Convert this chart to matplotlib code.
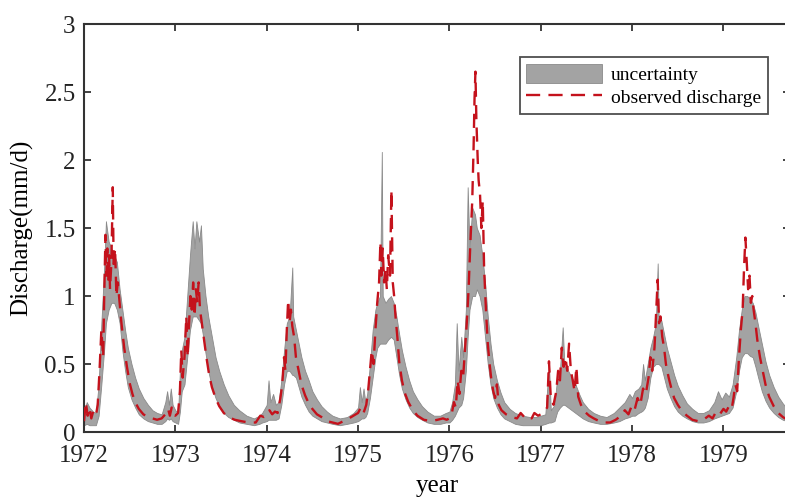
import matplotlib
matplotlib.use("Agg")
import matplotlib.pyplot as plt

# ---------------- data (decimal years, mm/d) ----------------
t_obs = [1972.00, 1972.02, 1972.04, 1972.06, 1972.08, 1972.10, 1972.13, 1972.15, 1972.17, 1972.19,
         1972.21, 1972.22, 1972.235, 1972.245, 1972.255, 1972.265, 1972.275, 1972.285, 1972.30, 1972.315,
         1972.325, 1972.34, 1972.355, 1972.37, 1972.39, 1972.41, 1972.44, 1972.47, 1972.50, 1972.53,
         1972.56, 1972.60, 1972.65, 1972.70, 1972.75, 1972.80, 1972.85, 1972.89, 1972.92, 1972.94,
         1972.96, 1972.98,
         1973.00, 1973.03, 1973.05, 1973.065, 1973.08, 1973.10, 1973.12, 1973.135, 1973.15, 1973.165,
         1973.18, 1973.195, 1973.21, 1973.225, 1973.24, 1973.255, 1973.27, 1973.29, 1973.31, 1973.34,
         1973.37, 1973.40, 1973.44, 1973.48, 1973.53, 1973.58, 1973.65, 1973.72, 1973.80, 1973.88,
         1973.93, 1973.97,
         1974.00, 1974.03, 1974.06, 1974.09, 1974.12, 1974.15, 1974.17, 1974.19, 1974.205, 1974.22,
         1974.235, 1974.25, 1974.265, 1974.28, 1974.30, 1974.32, 1974.35, 1974.38, 1974.42, 1974.46,
         1974.50, 1974.55, 1974.60, 1974.66, 1974.72, 1974.78, 1974.84, 1974.90, 1974.95,
         1975.00, 1975.03, 1975.06, 1975.09, 1975.11, 1975.13, 1975.15, 1975.17, 1975.19, 1975.21,
         1975.23, 1975.245, 1975.255, 1975.27, 1975.285, 1975.30, 1975.315, 1975.33, 1975.35, 1975.365,
         1975.38, 1975.395, 1975.41, 1975.43, 1975.45, 1975.48, 1975.51, 1975.55, 1975.60, 1975.65,
         1975.72, 1975.80, 1975.87, 1975.93, 1975.97,
         1976.00, 1976.03, 1976.05, 1976.07, 1976.09, 1976.11, 1976.13, 1976.15, 1976.17, 1976.19,
         1976.21, 1976.23, 1976.25, 1976.265, 1976.275, 1976.285, 1976.295, 1976.31, 1976.32, 1976.335,
         1976.35, 1976.365, 1976.38, 1976.40, 1976.42, 1976.44, 1976.46, 1976.48, 1976.50, 1976.52,
         1976.54, 1976.57, 1976.62, 1976.68, 1976.74, 1976.78, 1976.82, 1976.86, 1976.90, 1976.93,
         1976.97,
         1977.00, 1977.04, 1977.07, 1977.09, 1977.11, 1977.14, 1977.17, 1977.19, 1977.21, 1977.23,
         1977.25, 1977.27, 1977.29, 1977.31, 1977.33, 1977.35, 1977.37, 1977.39, 1977.41, 1977.44,
         1977.48, 1977.53, 1977.58, 1977.64, 1977.70, 1977.76, 1977.82, 1977.88, 1977.92, 1977.96,
         1978.00, 1978.03, 1978.06, 1978.09, 1978.12, 1978.15, 1978.18, 1978.20, 1978.22, 1978.245,
         1978.265, 1978.28, 1978.295, 1978.31, 1978.33, 1978.35, 1978.37, 1978.40, 1978.43, 1978.46,
         1978.50, 1978.55, 1978.60, 1978.66, 1978.72, 1978.78, 1978.84, 1978.88, 1978.92, 1978.96,
         1979.00, 1979.03, 1979.06, 1979.09, 1979.11, 1979.13, 1979.15, 1979.17, 1979.19, 1979.21,
         1979.225, 1979.24, 1979.255, 1979.27, 1979.285, 1979.30, 1979.315, 1979.33, 1979.35, 1979.37,
         1979.40, 1979.43, 1979.46, 1979.50, 1979.55, 1979.60, 1979.65, 1979.70, 1979.75]

q_obs = [0.08, 0.22, 0.12, 0.18, 0.10, 0.15, 0.12, 0.20, 0.45, 0.75,
         0.55, 0.95, 1.45, 1.15, 1.35, 1.10, 1.30, 1.05, 1.25, 1.80,
         1.20, 1.35, 1.00, 1.10, 0.95, 0.80, 0.62, 0.48, 0.36, 0.28,
         0.22, 0.17, 0.13, 0.11, 0.10, 0.09, 0.10, 0.13, 0.17, 0.12,
         0.18, 0.13,
         0.12, 0.14, 0.30, 0.60, 0.40, 0.55, 0.85, 0.55, 0.80, 1.00,
         0.90, 1.10, 0.85, 1.05, 0.95, 1.10, 0.90, 0.80, 0.70, 0.55,
         0.42, 0.33, 0.25, 0.19, 0.14, 0.11, 0.09, 0.08, 0.07, 0.07,
         0.12, 0.11,
         0.12, 0.16, 0.13, 0.15, 0.14, 0.25, 0.35, 0.55, 0.45, 0.75,
         0.97, 0.80, 0.90, 0.78, 0.70, 0.55, 0.45, 0.35, 0.27, 0.21,
         0.17, 0.13, 0.11, 0.08, 0.07, 0.06, 0.08, 0.10, 0.12,
         0.14, 0.18, 0.14, 0.20, 0.30, 0.45, 0.60, 0.50, 0.75, 0.95,
         1.10, 1.40, 1.15, 1.35, 1.10, 1.20, 1.05, 1.30, 1.15, 1.78,
         1.10, 1.00, 0.85, 0.70, 0.52, 0.38, 0.29, 0.22, 0.16, 0.12,
         0.09, 0.08, 0.09, 0.10, 0.09,
         0.10, 0.15, 0.22, 0.18, 0.38, 0.28, 0.45, 0.40, 0.60, 0.80,
         1.05, 1.40, 1.70, 2.10, 2.45, 2.65, 2.30, 2.00, 1.85, 1.75,
         1.50, 1.70, 1.20, 0.90, 0.65, 0.50, 0.38, 0.30, 0.25, 0.35,
         0.20, 0.16, 0.13, 0.11, 0.10, 0.14, 0.11, 0.12, 0.10, 0.14,
         0.12,
         0.13, 0.15, 0.18, 0.52, 0.25, 0.20, 0.30, 0.45, 0.38, 0.62,
         0.48, 0.55, 0.45, 0.65, 0.45, 0.38, 0.30, 0.48, 0.26, 0.20,
         0.15, 0.12, 0.10, 0.08, 0.07, 0.07, 0.09, 0.12, 0.16, 0.13,
         0.20, 0.17, 0.25, 0.20, 0.32, 0.28, 0.40, 0.55, 0.45, 0.62,
         0.90, 1.12, 0.80, 0.85, 0.70, 0.62, 0.50, 0.40, 0.32, 0.25,
         0.20, 0.15, 0.12, 0.09, 0.08, 0.09, 0.12, 0.10, 0.15, 0.13,
         0.17, 0.15, 0.19, 0.17, 0.25, 0.35, 0.30, 0.55, 0.75, 0.90,
         1.20, 1.43, 1.25, 1.05, 1.15, 0.95, 1.00, 0.90, 0.80, 0.68,
         0.55, 0.45, 0.35, 0.26, 0.19, 0.14, 0.11, 0.09, 0.08]

t_band = [1972.00, 1972.03, 1972.06, 1972.10, 1972.13, 1972.16, 1972.19, 1972.22, 1972.24, 1972.27,
          1972.30, 1972.33, 1972.36, 1972.39, 1972.42, 1972.45, 1972.48, 1972.52, 1972.56, 1972.60,
          1972.65, 1972.70, 1972.75, 1972.80, 1972.85, 1972.89, 1972.91, 1972.93, 1972.95, 1972.97,
          1973.00, 1973.03, 1973.05, 1973.07, 1973.10, 1973.13, 1973.16, 1973.19, 1973.21, 1973.23,
          1973.26, 1973.28, 1973.30, 1973.33, 1973.36, 1973.40, 1973.44, 1973.48, 1973.53, 1973.58,
          1973.64, 1973.70, 1973.78, 1973.86, 1973.92, 1973.95,
          1974.00, 1974.02, 1974.04, 1974.07, 1974.10, 1974.13, 1974.16, 1974.19, 1974.22, 1974.25,
          1974.28, 1974.29, 1974.32, 1974.35, 1974.38, 1974.42, 1974.46, 1974.50, 1974.55, 1974.60,
          1974.66, 1974.72, 1974.80, 1974.88, 1974.95,
          1975.00, 1975.02, 1975.04, 1975.06, 1975.08, 1975.10, 1975.13, 1975.16, 1975.19, 1975.21,
          1975.24, 1975.26, 1975.27, 1975.30, 1975.33, 1975.36, 1975.39, 1975.42, 1975.45, 1975.48,
          1975.52, 1975.56, 1975.60, 1975.65, 1975.70, 1975.76, 1975.83, 1975.90, 1975.96,
          1976.00, 1976.03, 1976.06, 1976.08, 1976.10, 1976.13, 1976.15, 1976.18, 1976.20, 1976.22,
          1976.25, 1976.28, 1976.30, 1976.33, 1976.36, 1976.39, 1976.42, 1976.45, 1976.48, 1976.52,
          1976.56, 1976.60, 1976.66, 1976.72, 1976.80, 1976.88, 1976.95,
          1977.00, 1977.05, 1977.09, 1977.11, 1977.15, 1977.18, 1977.21, 1977.24, 1977.26, 1977.30,
          1977.34, 1977.38, 1977.42, 1977.46, 1977.52, 1977.58, 1977.65, 1977.72, 1977.80, 1977.86,
          1977.92, 1977.97,
          1978.00, 1978.03, 1978.07, 1978.10, 1978.12, 1978.14, 1978.17, 1978.20, 1978.23, 1978.26,
          1978.28, 1978.29, 1978.32, 1978.35, 1978.38, 1978.42, 1978.46, 1978.50, 1978.55, 1978.60,
          1978.66, 1978.72, 1978.78, 1978.84, 1978.90, 1978.94, 1978.98,
          1979.02, 1979.06, 1979.10, 1979.14, 1979.17, 1979.20, 1979.23, 1979.26, 1979.29, 1979.32,
          1979.35, 1979.38, 1979.42, 1979.46, 1979.50, 1979.55, 1979.60, 1979.65, 1979.70, 1979.75]

band_lo = [0.05, 0.06, 0.05, 0.05, 0.05, 0.12, 0.35, 0.60, 0.80, 0.90,
           0.95, 0.95, 0.90, 0.80, 0.60, 0.45, 0.33, 0.24, 0.18, 0.13,
           0.10, 0.08, 0.07, 0.06, 0.06, 0.08, 0.10, 0.09, 0.10, 0.08,
           0.07, 0.06, 0.15, 0.30, 0.35, 0.55, 0.75, 0.85, 0.85, 0.85,
           0.82, 0.80, 0.72, 0.58, 0.45, 0.33, 0.25, 0.19, 0.14, 0.11,
           0.09, 0.07, 0.06, 0.05, 0.06, 0.07,
           0.08, 0.09, 0.09, 0.09, 0.09, 0.10, 0.20, 0.35, 0.45, 0.45,
           0.42, 0.42, 0.40, 0.33, 0.26, 0.20, 0.15, 0.12, 0.10, 0.08,
           0.07, 0.06, 0.05, 0.06, 0.07,
           0.08, 0.09, 0.10, 0.10, 0.11, 0.14, 0.25, 0.40, 0.55, 0.62,
           0.65, 0.65, 0.65, 0.65, 0.68, 0.70, 0.68, 0.55, 0.42, 0.32,
           0.24, 0.18, 0.14, 0.11, 0.09, 0.07, 0.06, 0.06, 0.07,
           0.07, 0.09, 0.12, 0.15, 0.18, 0.20, 0.25, 0.45, 0.70, 0.90,
           1.00, 1.00, 1.05, 1.00, 0.90, 0.70, 0.50, 0.35, 0.25, 0.18,
           0.13, 0.10, 0.08, 0.06, 0.05, 0.05, 0.05,
           0.05, 0.06, 0.07, 0.07, 0.08, 0.15, 0.18, 0.20, 0.20, 0.18,
           0.16, 0.14, 0.12, 0.10, 0.08, 0.07, 0.06, 0.06, 0.07, 0.08,
           0.10, 0.11,
           0.12, 0.12, 0.14, 0.15, 0.16, 0.18, 0.25, 0.40, 0.48, 0.50,
           0.50, 0.50, 0.48, 0.40, 0.32, 0.25, 0.19, 0.15, 0.12, 0.10,
           0.08, 0.07, 0.07, 0.08, 0.10, 0.11, 0.12,
           0.13, 0.14, 0.18, 0.30, 0.45, 0.55, 0.58, 0.58, 0.56, 0.55,
           0.48, 0.40, 0.30, 0.23, 0.18, 0.14, 0.11, 0.09, 0.08, 0.07]

band_hi = [0.15, 0.22, 0.18, 0.15, 0.14, 0.35, 0.80, 1.20, 1.55, 1.40,
           1.35, 1.30, 1.25, 1.05, 0.90, 0.75, 0.62, 0.50, 0.40, 0.32,
           0.25, 0.20, 0.16, 0.14, 0.13, 0.22, 0.30, 0.20, 0.32, 0.20,
           0.16, 0.14, 0.45, 0.60, 0.70, 1.00, 1.30, 1.55, 1.35, 1.55,
           1.40, 1.52, 1.20, 1.00, 0.85, 0.70, 0.55, 0.45, 0.35, 0.27,
           0.20, 0.16, 0.12, 0.10, 0.12, 0.14,
           0.20, 0.38, 0.22, 0.28, 0.20, 0.22, 0.38, 0.60, 0.80, 0.85,
           1.21, 0.85, 0.75, 0.65, 0.55, 0.45, 0.38, 0.30, 0.24, 0.19,
           0.15, 0.12, 0.10, 0.11, 0.14,
           0.18, 0.33, 0.22, 0.32, 0.22, 0.28, 0.50, 0.75, 0.90, 0.95,
           1.00, 2.06, 1.00, 0.95, 0.98, 1.00, 0.95, 0.85, 0.72, 0.60,
           0.48, 0.38, 0.30, 0.24, 0.19, 0.15, 0.12, 0.12, 0.14,
           0.15, 0.22, 0.35, 0.80, 0.45, 0.70, 0.55, 0.90, 1.80, 1.35,
           1.65, 1.60, 1.50, 1.45, 1.30, 1.10, 0.85, 0.65, 0.50, 0.38,
           0.29, 0.22, 0.17, 0.14, 0.12, 0.11, 0.11,
           0.12, 0.13, 0.50, 0.16, 0.20, 0.40, 0.45, 0.77, 0.48, 0.45,
           0.40, 0.35, 0.28, 0.22, 0.17, 0.14, 0.12, 0.11, 0.14, 0.18,
           0.22, 0.28,
           0.25, 0.30, 0.32, 0.35, 0.50, 0.38, 0.50, 0.62, 0.70, 0.80,
           1.24, 0.85, 0.82, 0.72, 0.62, 0.52, 0.42, 0.34, 0.27, 0.21,
           0.17, 0.14, 0.14, 0.16, 0.22, 0.30, 0.24,
           0.29, 0.26, 0.35, 0.55, 0.75, 0.90, 1.00, 1.00, 0.98, 0.95,
           0.88, 0.78, 0.65, 0.52, 0.42, 0.33, 0.26, 0.21, 0.17, 0.15]

year_ticks = [1972, 1973, 1974, 1975, 1976, 1977, 1978, 1979]
y_ticks = [0, 0.5, 1, 1.5, 2, 2.5, 3]
y_ticklabels = ["0", "0.5", "1", "1.5", "2", "2.5", "3"]

# ---------------- figure ----------------
plt.rcParams['font.family'] = ['Liberation Serif', 'DejaVu Serif']
fig = plt.figure(figsize=(7.85, 5.01), dpi=100)
ax = fig.add_axes([0.107, 0.1377, 0.90, 0.8143])

ax.fill_between(t_band, band_lo, band_hi, facecolor='#a3a3a3', edgecolor='#8a8a8a',
                linewidth=0.6, label='uncertainty', zorder=2)
ax.plot(t_obs, q_obs, color='#c4121c', linewidth=1.7, dashes=(6, 3.5),
        label='observed discharge', zorder=3)

ax.set_xlim(1972, 1979 + 67 / 91.3)
ax.set_ylim(0, 3)
ax.set_xticks(year_ticks)
ax.set_xticklabels([str(y) for y in year_ticks])
ax.set_yticks(y_ticks)
ax.set_yticklabels(y_ticklabels)

ax.tick_params(direction='in', length=5, width=1.2, labelsize=18, colors='#222222',
               top=True, right=True)
ax.tick_params(axis='x', pad=9)
ax.tick_params(axis='y', pad=6)
for s in ax.spines.values():
    s.set_linewidth(1.5)
    s.set_color('#333333')

ax.set_xlabel('year', fontsize=18, labelpad=6)
ax.set_ylabel('Discharge(mm/d)', fontsize=18, labelpad=8)

leg = ax.legend(loc='upper right', bbox_to_anchor=(0.968, 0.919), fontsize=14,
                frameon=True, fancybox=False, edgecolor='#222222', handlelength=3.9,
                handleheight=1.1, borderpad=0.35, labelspacing=0.15, handletextpad=0.45,
                borderaxespad=0)
leg.get_frame().set_linewidth(1.3)

fig.savefig('out.png', dpi=100)
